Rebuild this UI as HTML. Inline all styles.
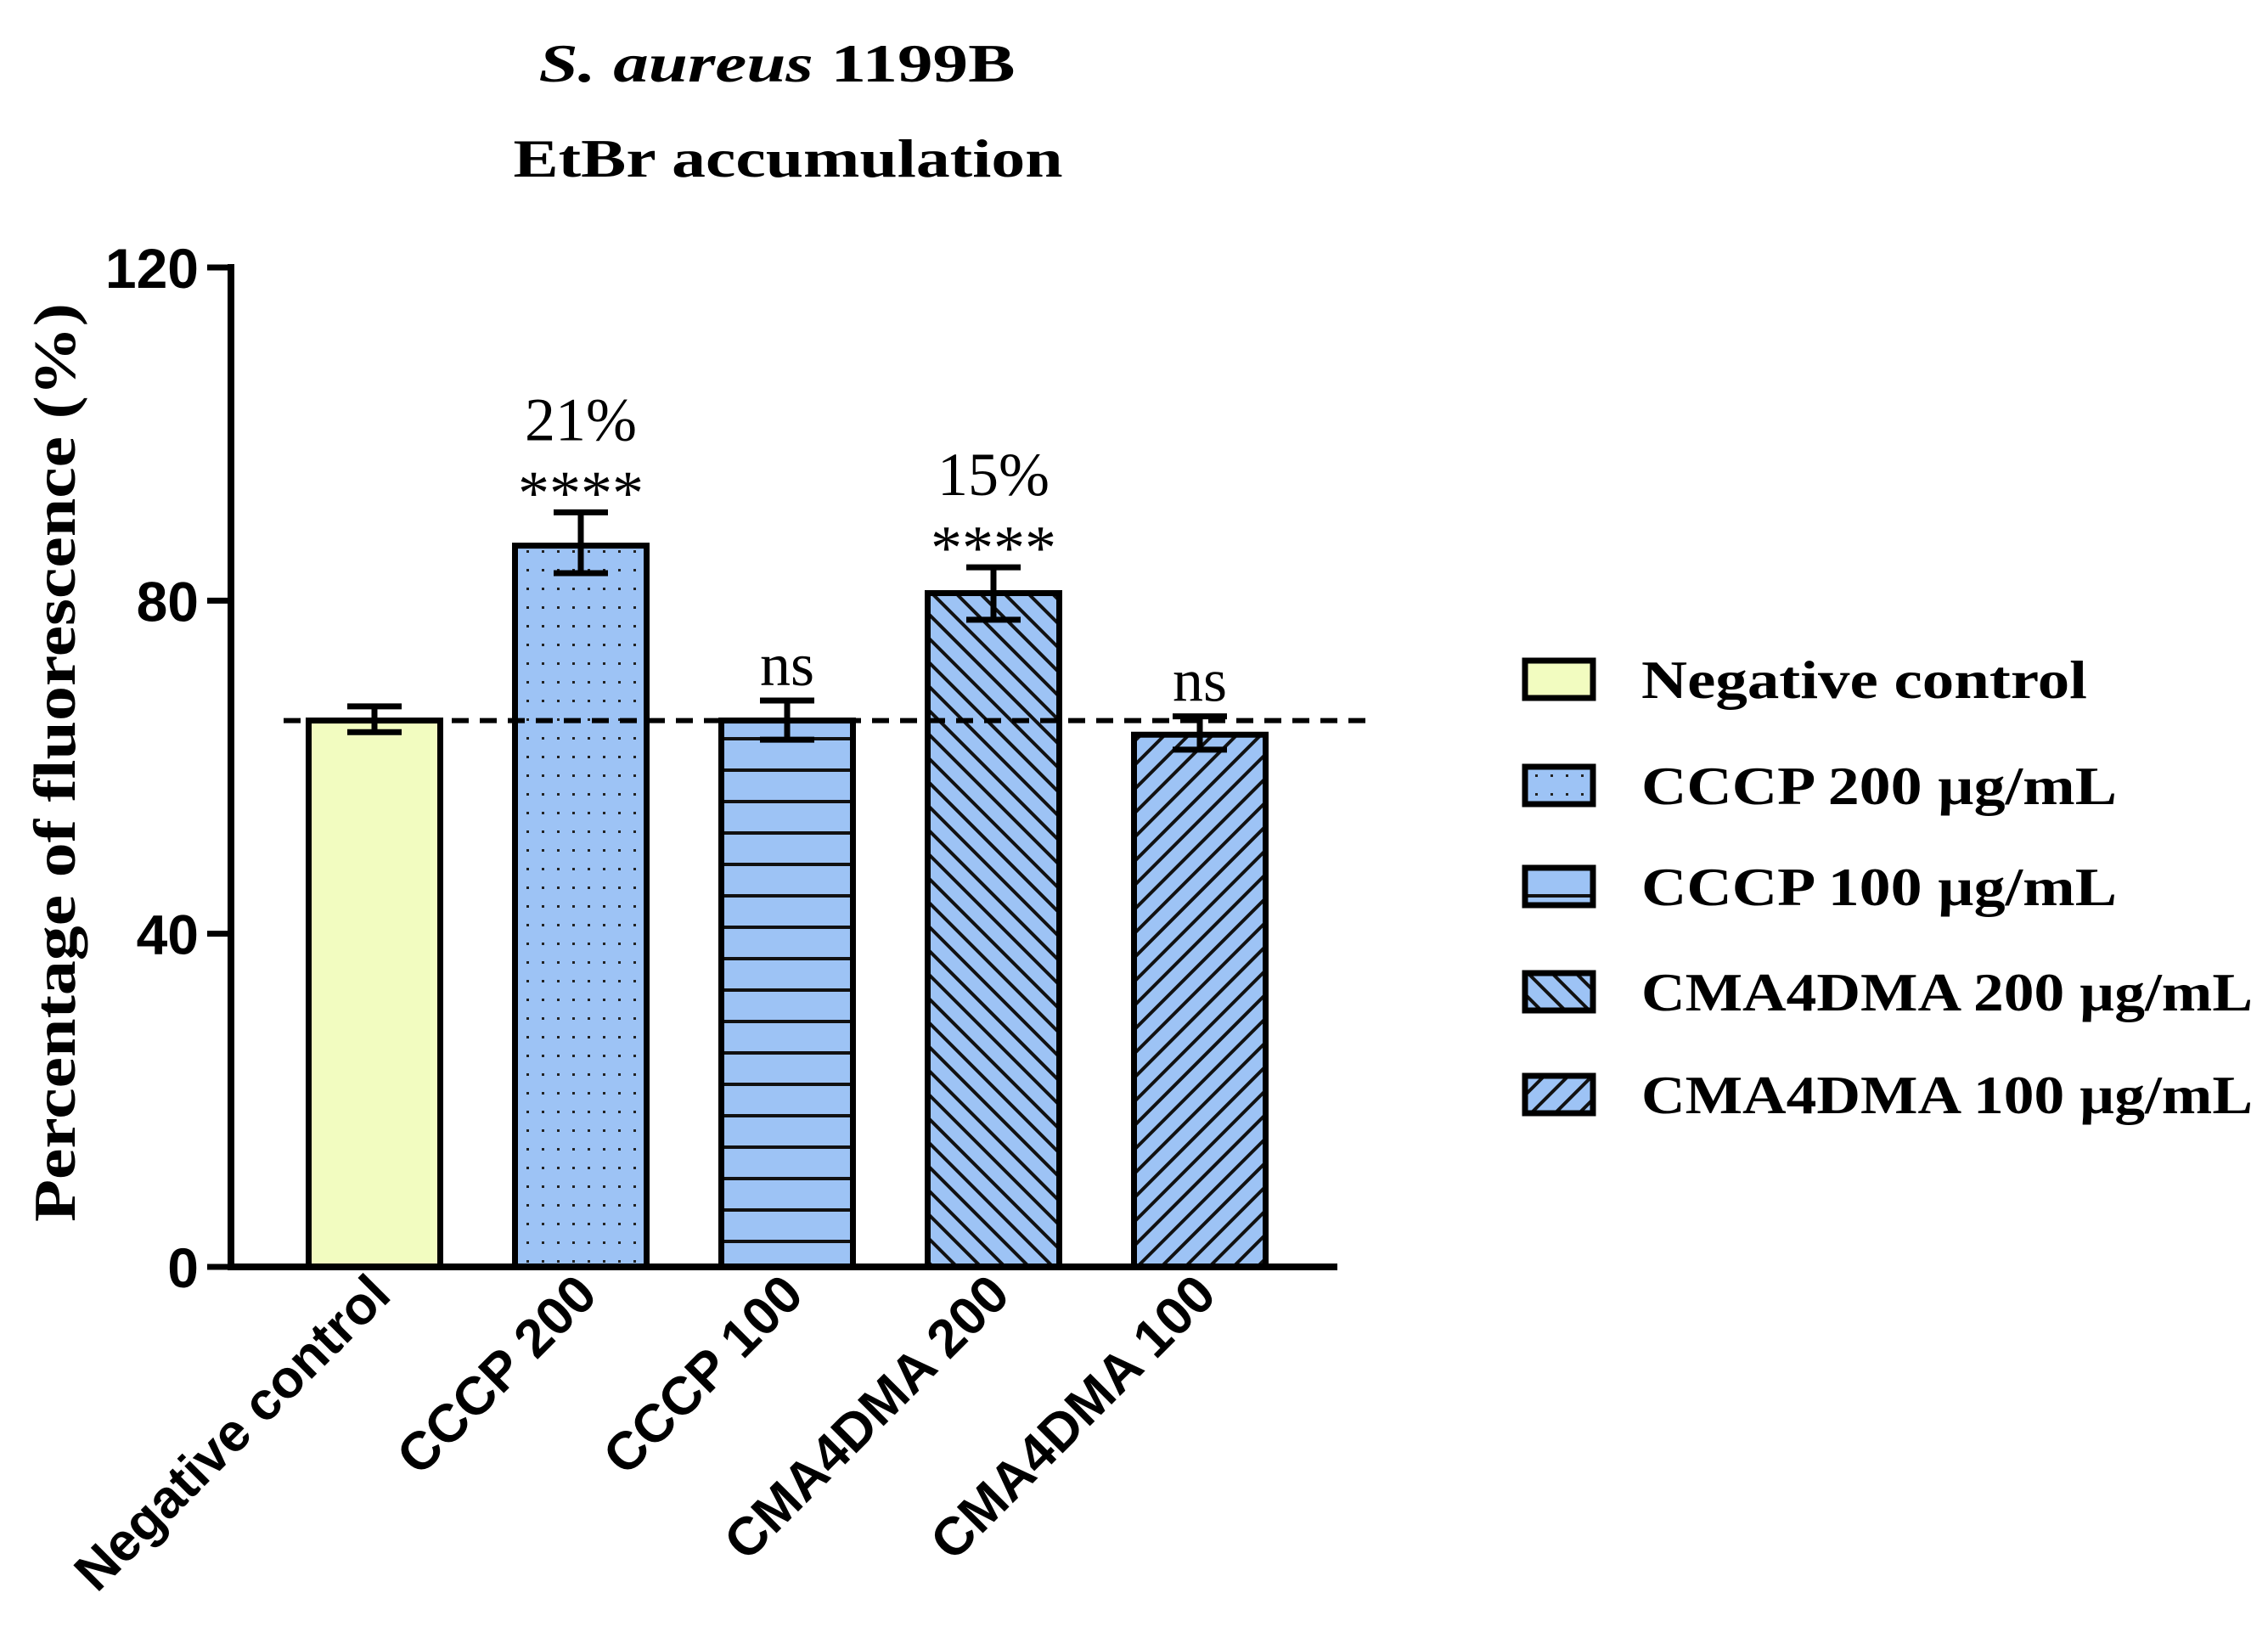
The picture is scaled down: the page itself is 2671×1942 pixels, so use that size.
<!DOCTYPE html>
<html><head><meta charset="utf-8"><style>html,body{margin:0;padding:0;background:#fff}svg{display:block}</style></head>
<body>
<svg id="chart" width="2671" height="1942" viewBox="0 0 2671 1942" xmlns="http://www.w3.org/2000/svg">
<defs>
<pattern id="p-dots" patternUnits="userSpaceOnUse" width="18" height="22"><rect width="18" height="22" fill="#9dc3f5"/><rect x="8" y="10" width="3" height="3" fill="#222"/></pattern>
<pattern id="p-hlines" patternUnits="userSpaceOnUse" width="20" height="37"><rect width="20" height="37" fill="#9dc3f5"/><rect y="17" width="20" height="4" fill="#111"/></pattern>
<pattern id="p-back" patternUnits="userSpaceOnUse" width="20" height="20" patternTransform="rotate(-45)"><rect width="20" height="20" fill="#9dc3f5"/><rect x="0" width="4" height="20" fill="#111"/></pattern>
<pattern id="p-fwd" patternUnits="userSpaceOnUse" width="20" height="20" patternTransform="rotate(45)"><rect width="20" height="20" fill="#9dc3f5"/><rect x="0" width="4" height="20" fill="#111"/></pattern>
</defs>
<g id="title" font-family="Liberation Serif, serif" font-weight="bold" font-size="64" text-anchor="middle">
<text x="915" y="96" textLength="561" lengthAdjust="spacingAndGlyphs"><tspan font-style="italic">S. aureus</tspan> 1199B</text>
<text x="928" y="208" textLength="647" lengthAdjust="spacingAndGlyphs">EtBr accumulation</text>
</g>
<text transform="translate(88,898) rotate(-90)" text-anchor="middle" font-family="Liberation Serif, serif" font-weight="bold" font-size="70" textLength="1082" lengthAdjust="spacingAndGlyphs">Percentage of fluorescence (%)</text>
<g id="plot"></g>
<g id="legend"></g>
</svg>
<script>
const categories = ["Negative control","CCCP 200","CCCP 100","CMA4DMA 200","CMA4DMA 100"];
const means = [65.6, 86.6, 65.6, 80.9, 63.9];
const errUpper = [67.3, 90.6, 68.0, 84.0, 66.1];
const errLower = [64.2, 83.3, 63.3, 77.7, 62.1];
const yTicks = [0, 40, 80, 120];
const refLine = [65.6];
const pctLabels = ["", "21%", "", "15%", ""];
const sigLabels = ["", "****", "ns", "****", "ns"];
const legendLabels = ["Negative control","CCCP 200 \u00b5g/mL","CCCP 100 \u00b5g/mL","CMA4DMA 200 \u00b5g/mL","CMA4DMA 100 \u00b5g/mL"];

const fills = ["#f2fcc0","url(#p-dots)","url(#p-hlines)","url(#p-back)","url(#p-fwd)"];
const NS = "http://www.w3.org/2000/svg";
const X0 = 272, XEND = 1575, Y0 = 1492, YTOP = 315, YMAX = 120;
const y = v => Y0 - (v / YMAX) * (Y0 - YTOP);
const band = 243, firstC = 441, barW = 155;
const xc = i => firstC + i * band;
function mk(tag, attrs, parent) { const e = document.createElementNS(NS, tag); for (const k in attrs) e.setAttribute(k, attrs[k]); parent.appendChild(e); return e; }
const plot = document.getElementById('plot');

categories.forEach((c, i) => {
  const b = mk('rect', {x: xc(i) - barW/2, y: y(means[i]), width: barW, height: Y0 - y(means[i]), fill: fills[i], stroke: '#000', 'stroke-width': 7}, plot);
  
  
  const eb = mk('path', {d: `M${xc(i)} ${y(errUpper[i])}V${y(errLower[i])}M${xc(i)-32} ${y(errUpper[i])}H${xc(i)+32}M${xc(i)-32} ${y(errLower[i])}H${xc(i)+32}`, stroke: '#000', 'stroke-width': 7, fill: 'none'}, plot);
  
  
  const lbl = mk('text', {transform: `translate(${xc(i)+22},1528) rotate(-45)`, 'text-anchor': 'end', 'font-family': 'Liberation Sans, sans-serif', 'font-weight': 'bold', 'font-size': 63}, plot);
  lbl.textContent = c;
  
  
  const top = y(errUpper[i]);
  if (pctLabels[i]) {
    const t = mk('text', {x: xc(i), y: top - 85, 'text-anchor': 'middle', 'font-family': 'Liberation Serif, serif', 'font-size': 72}, plot);
    t.textContent = pctLabels[i];
    
    
  }
  if (sigLabels[i]) {
    const isNs = sigLabels[i] === 'ns';
    const t = mk('text', {x: xc(i), y: isNs ? top - 18 : top + 2, 'text-anchor': 'middle', 'font-family': 'Liberation Serif, serif', 'font-size': isNs ? 72 : 74}, plot);
    t.textContent = sigLabels[i];
    
    
  }
});

refLine.forEach(v => {
  const l = mk('line', {x1: 334, x2: 1618, y1: y(v), y2: y(v), stroke: '#000', 'stroke-width': 6, 'stroke-dasharray': '20 13'}, plot);
  
  
});

const axes = mk('path', {d: `M${X0} ${YTOP-4}V${Y0}H${XEND}`, stroke: '#000', 'stroke-width': 8, fill: 'none'}, plot);


yTicks.forEach(t => {
  const tk = mk('line', {x1: X0 - 28, x2: X0, y1: y(t), y2: y(t), stroke: '#000', 'stroke-width': 7}, plot);
  
  
  const tl = mk('text', {x: 234, y: y(t) + 24, 'text-anchor': 'end', 'font-family': 'Liberation Sans, sans-serif', 'font-weight': 'bold', 'font-size': 66}, plot);
  tl.textContent = t;
  
  
});

const legend = document.getElementById('legend');
const legY = [800, 925, 1044, 1168, 1289];
const legLen = [525, 560, 560, 720, 720];
legendLabels.forEach((L, i) => {
  const g = mk('g', {}, legend);
  
  
  mk('rect', {x: 1796, y: legY[i] - 22, width: 80, height: 44, fill: fills[i], stroke: '#000', 'stroke-width': 7}, g);
  const t = mk('text', {x: 1933, y: legY[i] + 22, 'font-family': 'Liberation Serif, serif', 'font-weight': 'bold', 'font-size': 64, textLength: legLen[i], lengthAdjust: 'spacingAndGlyphs'}, g);
  t.textContent = L;
});
</script>
</body></html>
